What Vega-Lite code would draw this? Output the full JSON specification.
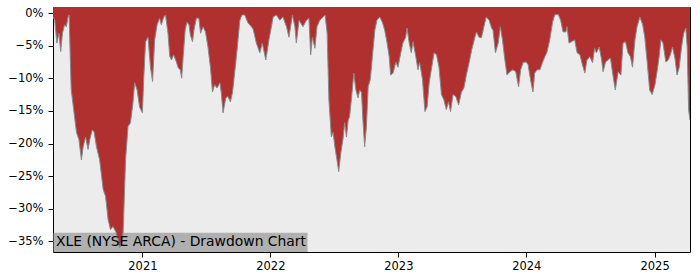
{
  "$schema": "https://vega.github.io/schema/vega-lite/v6.json",
  "width": 637,
  "height": 245,
  "autosize": "none",
  "padding": {"left": 53, "top": 7, "right": 10, "bottom": 28},
  "background": "white",
  "config": {
    "view": {"stroke": "black", "strokeWidth": 1, "fill": "#ececec"},
    "font": "DejaVu Sans",
    "axis": {"labelFont": "DejaVu Sans", "labelFontSize": 11.5, "labelColor": "black", "tickColor": "black", "tickSize": 5, "domain": false, "grid": false, "title": null, "labelOverlap": false, "labelFlush": false}
  },
  "layer": [
    {
      "data": {"values": [{}]},
      "mark": {"type": "rect", "color": "#808080", "opacity": 0.55},
      "encoding": {
        "x": {"datum": {"year": 2020, "month": 4, "date": 21}, "type": "temporal",
              "scale": {"domain": [{"year": 2020, "month": 4, "date": 21}, {"year": 2025, "month": 4, "date": 12}], "nice": false},
              "axis": {"values": [{"year": 2021, "month": 1, "date": 1}, {"year": 2022, "month": 1, "date": 1}, {"year": 2023, "month": 1, "date": 1}, {"year": 2024, "month": 1, "date": 1}, {"year": 2025, "month": 1, "date": 1}], "format": "%Y", "labelPadding": 3, "labelOverlap": false}},
        "x2": {"datum": {"year": 2022, "month": 4, "date": 17}},
        "y": {"datum": -36.62, "type": "quantitative",
              "scale": {"domain": [-36.62, 0.92], "nice": false, "zero": false},
              "axis": {"values": [0, -5, -10, -15, -20, -25, -30, -35], "labelExpr": "format(datum.value / 100, '.0%')", "labelPadding": 5, "labelOverlap": false}},
        "y2": {"datum": -33.67}
      }
    },
    {
      "data": {"values": [
        {"date":"2020-04-21","dd":-0.6},{"date":"2020-04-26","dd":-1.1},{"date":"2020-05-02","dd":-4.6},{"date":"2020-05-08","dd":-3.1},{"date":"2020-05-13","dd":-5.9},{"date":"2020-05-18","dd":-3.1},{"date":"2020-05-24","dd":-1.8},{"date":"2020-05-29","dd":-2.1},{"date":"2020-06-03","dd":-0.6},{"date":"2020-06-06","dd":-0.3},
        {"date":"2020-06-10","dd":-8.3},{"date":"2020-06-12","dd":-11.8},{"date":"2020-06-19","dd":-14.8},{"date":"2020-06-27","dd":-18.3},{"date":"2020-07-04","dd":-19.4},{"date":"2020-07-11","dd":-22.5},{"date":"2020-07-16","dd":-20.5},{"date":"2020-07-23","dd":-19.0},{"date":"2020-07-30","dd":-20.9},{"date":"2020-08-04","dd":-19.4},
        {"date":"2020-08-11","dd":-17.9},{"date":"2020-08-16","dd":-18.2},{"date":"2020-08-23","dd":-20.5},{"date":"2020-09-01","dd":-22.5},{"date":"2020-09-11","dd":-27.0},{"date":"2020-09-18","dd":-28.1},{"date":"2020-09-25","dd":-31.6},{"date":"2020-10-02","dd":-33.2},{"date":"2020-10-09","dd":-32.7},{"date":"2020-10-17","dd":-33.5},
        {"date":"2020-10-23","dd":-34.5},{"date":"2020-10-28","dd":-36.0},{"date":"2020-11-03","dd":-35.0},{"date":"2020-11-07","dd":-33.6},{"date":"2020-11-14","dd":-22.5},{"date":"2020-11-21","dd":-17.4},{"date":"2020-11-28","dd":-16.8},{"date":"2020-12-05","dd":-13.8},{"date":"2020-12-10","dd":-10.7},{"date":"2020-12-17","dd":-11.8},
        {"date":"2020-12-24","dd":-14.4},{"date":"2021-01-01","dd":-15.3},{"date":"2021-01-05","dd":-9.8},{"date":"2021-01-10","dd":-4.4},{"date":"2021-01-17","dd":-3.7},{"date":"2021-01-24","dd":-8.3},{"date":"2021-01-30","dd":-10.5},{"date":"2021-02-05","dd":-4.1},{"date":"2021-02-12","dd":-1.8},{"date":"2021-02-19","dd":-0.8},
        {"date":"2021-02-24","dd":-1.8},{"date":"2021-03-03","dd":-0.6},{"date":"2021-03-08","dd":-0.3},{"date":"2021-03-15","dd":-3.1},{"date":"2021-03-20","dd":-6.6},{"date":"2021-03-25","dd":-7.2},{"date":"2021-03-31","dd":-6.4},{"date":"2021-04-08","dd":-7.5},{"date":"2021-04-13","dd":-8.4},{"date":"2021-04-19","dd":-8.7},
        {"date":"2021-04-23","dd":-10.0},{"date":"2021-04-27","dd":-6.9},{"date":"2021-05-03","dd":-2.6},{"date":"2021-05-08","dd":-1.4},{"date":"2021-05-14","dd":-1.8},{"date":"2021-05-18","dd":-3.4},{"date":"2021-05-24","dd":-4.4},{"date":"2021-05-28","dd":-2.6},{"date":"2021-06-04","dd":-0.8},{"date":"2021-06-11","dd":-0.8},
        {"date":"2021-06-16","dd":-3.1},{"date":"2021-06-23","dd":-2.1},{"date":"2021-06-30","dd":-2.9},{"date":"2021-07-07","dd":-5.2},{"date":"2021-07-14","dd":-8.3},{"date":"2021-07-20","dd":-12.1},{"date":"2021-07-26","dd":-11.0},{"date":"2021-08-02","dd":-11.5},{"date":"2021-08-10","dd":-10.7},{"date":"2021-08-14","dd":-12.2},
        {"date":"2021-08-19","dd":-15.3},{"date":"2021-08-27","dd":-13.0},{"date":"2021-09-02","dd":-12.8},{"date":"2021-09-09","dd":-13.6},{"date":"2021-09-15","dd":-12.2},{"date":"2021-09-21","dd":-9.2},{"date":"2021-09-28","dd":-5.7},{"date":"2021-10-06","dd":-1.1},{"date":"2021-10-12","dd":-0.3},{"date":"2021-10-20","dd":-0.3},
        {"date":"2021-10-29","dd":-1.5},{"date":"2021-11-08","dd":-2.1},{"date":"2021-11-13","dd":-2.5},{"date":"2021-11-22","dd":-4.6},{"date":"2021-12-02","dd":-6.1},{"date":"2021-12-09","dd":-4.6},{"date":"2021-12-19","dd":-7.2},{"date":"2021-12-28","dd":-4.1},{"date":"2022-01-09","dd":-0.6},{"date":"2022-01-18","dd":-0.3},
        {"date":"2022-01-28","dd":-1.1},{"date":"2022-02-06","dd":-0.6},{"date":"2022-02-16","dd":-2.1},{"date":"2022-02-23","dd":-3.7},{"date":"2022-03-05","dd":-0.3},{"date":"2022-03-12","dd":-2.1},{"date":"2022-03-16","dd":-4.6},{"date":"2022-03-24","dd":-1.1},{"date":"2022-04-04","dd":-2.1},{"date":"2022-04-14","dd":-1.1},
        {"date":"2022-04-21","dd":-0.8},{"date":"2022-04-26","dd":-6.4},{"date":"2022-05-01","dd":-3.7},{"date":"2022-05-08","dd":-5.4},{"date":"2022-05-14","dd":-2.1},{"date":"2022-05-22","dd":-1.1},{"date":"2022-05-31","dd":-0.6},{"date":"2022-06-06","dd":-0.3},{"date":"2022-06-12","dd":-3.1},{"date":"2022-06-17","dd":-13.3},
        {"date":"2022-06-24","dd":-19.0},{"date":"2022-06-29","dd":-18.3},{"date":"2022-07-04","dd":-20.5},{"date":"2022-07-10","dd":-22.5},{"date":"2022-07-15","dd":-24.3},{"date":"2022-07-21","dd":-21.4},{"date":"2022-07-27","dd":-19.4},{"date":"2022-08-01","dd":-16.8},{"date":"2022-08-06","dd":-19.0},{"date":"2022-08-11","dd":-16.4},
        {"date":"2022-08-15","dd":-15.9},{"date":"2022-08-20","dd":-13.3},{"date":"2022-08-27","dd":-9.2},{"date":"2022-09-02","dd":-11.8},{"date":"2022-09-08","dd":-13.0},{"date":"2022-09-13","dd":-11.8},{"date":"2022-09-18","dd":-12.2},{"date":"2022-09-22","dd":-16.4},{"date":"2022-09-27","dd":-20.5},{"date":"2022-10-02","dd":-17.4},
        {"date":"2022-10-07","dd":-11.3},{"date":"2022-10-13","dd":-10.2},{"date":"2022-10-19","dd":-6.7},{"date":"2022-10-26","dd":-2.6},{"date":"2022-11-01","dd":-1.1},{"date":"2022-11-09","dd":-0.6},{"date":"2022-11-17","dd":-1.5},{"date":"2022-11-23","dd":-2.6},{"date":"2022-11-30","dd":-4.6},{"date":"2022-12-06","dd":-6.7},
        {"date":"2022-12-10","dd":-9.5},{"date":"2022-12-17","dd":-9.2},{"date":"2022-12-25","dd":-7.5},{"date":"2022-12-31","dd":-8.3},{"date":"2023-01-08","dd":-6.1},{"date":"2023-01-14","dd":-4.6},{"date":"2023-01-22","dd":-3.7},{"date":"2023-01-26","dd":-2.3},{"date":"2023-02-01","dd":-4.6},{"date":"2023-02-07","dd":-6.1},
        {"date":"2023-02-12","dd":-4.4},{"date":"2023-02-20","dd":-6.7},{"date":"2023-02-26","dd":-8.7},{"date":"2023-03-03","dd":-7.6},{"date":"2023-03-11","dd":-10.2},{"date":"2023-03-18","dd":-15.1},{"date":"2023-03-24","dd":-14.4},{"date":"2023-03-30","dd":-10.7},{"date":"2023-04-06","dd":-8.4},{"date":"2023-04-13","dd":-6.1},
        {"date":"2023-04-20","dd":-6.4},{"date":"2023-04-27","dd":-8.3},{"date":"2023-05-04","dd":-12.5},{"date":"2023-05-11","dd":-13.3},{"date":"2023-05-18","dd":-14.8},{"date":"2023-05-24","dd":-13.6},{"date":"2023-05-30","dd":-15.1},{"date":"2023-06-06","dd":-12.5},{"date":"2023-06-14","dd":-12.8},{"date":"2023-06-22","dd":-14.1},
        {"date":"2023-06-30","dd":-12.1},{"date":"2023-07-07","dd":-11.5},{"date":"2023-07-14","dd":-9.5},{"date":"2023-07-22","dd":-7.6},{"date":"2023-07-29","dd":-5.7},{"date":"2023-08-07","dd":-3.8},{"date":"2023-08-12","dd":-2.9},{"date":"2023-08-19","dd":-3.7},{"date":"2023-08-26","dd":-3.8},{"date":"2023-09-02","dd":-2.1},
        {"date":"2023-09-09","dd":-0.6},{"date":"2023-09-17","dd":-1.1},{"date":"2023-09-24","dd":-2.3},{"date":"2023-09-28","dd":-2.6},{"date":"2023-10-05","dd":-6.1},{"date":"2023-10-13","dd":-4.6},{"date":"2023-10-19","dd":-2.1},{"date":"2023-10-25","dd":-4.1},{"date":"2023-11-01","dd":-7.2},{"date":"2023-11-07","dd":-9.5},
        {"date":"2023-11-15","dd":-9.0},{"date":"2023-11-24","dd":-8.7},{"date":"2023-12-02","dd":-9.0},{"date":"2023-12-10","dd":-11.3},{"date":"2023-12-16","dd":-8.7},{"date":"2023-12-23","dd":-7.6},{"date":"2023-12-31","dd":-7.5},{"date":"2024-01-06","dd":-7.9},{"date":"2024-01-13","dd":-10.2},{"date":"2024-01-20","dd":-12.1},
        {"date":"2024-01-25","dd":-9.2},{"date":"2024-02-01","dd":-8.7},{"date":"2024-02-09","dd":-8.7},{"date":"2024-02-16","dd":-7.6},{"date":"2024-02-23","dd":-6.7},{"date":"2024-02-29","dd":-6.0},{"date":"2024-03-08","dd":-4.1},{"date":"2024-03-16","dd":-1.4},{"date":"2024-03-22","dd":-0.3},{"date":"2024-04-01","dd":-0.2},
        {"date":"2024-04-08","dd":-1.1},{"date":"2024-04-15","dd":-2.9},{"date":"2024-04-23","dd":-2.9},{"date":"2024-04-26","dd":-2.1},{"date":"2024-05-02","dd":-4.6},{"date":"2024-05-09","dd":-4.4},{"date":"2024-05-18","dd":-4.1},{"date":"2024-05-25","dd":-6.1},{"date":"2024-06-02","dd":-6.4},{"date":"2024-06-09","dd":-7.9},
        {"date":"2024-06-16","dd":-9.2},{"date":"2024-06-22","dd":-7.2},{"date":"2024-06-30","dd":-6.7},{"date":"2024-07-08","dd":-7.6},{"date":"2024-07-14","dd":-5.4},{"date":"2024-07-19","dd":-6.1},{"date":"2024-07-27","dd":-5.2},{"date":"2024-08-03","dd":-7.2},{"date":"2024-08-07","dd":-9.0},{"date":"2024-08-14","dd":-7.5},
        {"date":"2024-08-21","dd":-7.2},{"date":"2024-08-28","dd":-6.9},{"date":"2024-09-05","dd":-9.8},{"date":"2024-09-11","dd":-11.8},{"date":"2024-09-19","dd":-9.0},{"date":"2024-09-27","dd":-9.5},{"date":"2024-10-03","dd":-4.6},{"date":"2024-10-10","dd":-4.4},{"date":"2024-10-17","dd":-6.1},{"date":"2024-10-24","dd":-6.7},
        {"date":"2024-10-30","dd":-8.3},{"date":"2024-11-06","dd":-4.1},{"date":"2024-11-12","dd":-2.1},{"date":"2024-11-20","dd":-0.6},{"date":"2024-11-28","dd":-1.8},{"date":"2024-12-04","dd":-3.7},{"date":"2024-12-11","dd":-7.6},{"date":"2024-12-18","dd":-11.8},{"date":"2024-12-25","dd":-12.5},{"date":"2025-01-02","dd":-11.0},
        {"date":"2025-01-08","dd":-9.0},{"date":"2025-01-14","dd":-6.7},{"date":"2025-01-19","dd":-4.1},{"date":"2025-01-25","dd":-4.6},{"date":"2025-02-02","dd":-7.5},{"date":"2025-02-09","dd":-7.2},{"date":"2025-02-15","dd":-6.4},{"date":"2025-02-21","dd":-5.2},{"date":"2025-02-28","dd":-6.9},{"date":"2025-03-06","dd":-9.5},
        {"date":"2025-03-12","dd":-8.4},{"date":"2025-03-19","dd":-5.2},{"date":"2025-03-25","dd":-3.1},{"date":"2025-03-31","dd":-2.3},{"date":"2025-04-04","dd":-5.2},{"date":"2025-04-08","dd":-14.8},{"date":"2025-04-12","dd":-16.4}
      ]},
      "mark": {"type": "area", "color": "#b03030", "opacity": 1, "line": {"color": "#8a8a8a", "strokeWidth": 1}, "clip": true},
      "encoding": {
        "x": {"field": "date", "type": "temporal",
              "axis": {"values": [{"year": 2021, "month": 1, "date": 1}, {"year": 2022, "month": 1, "date": 1}, {"year": 2023, "month": 1, "date": 1}, {"year": 2024, "month": 1, "date": 1}, {"year": 2025, "month": 1, "date": 1}], "format": "%Y", "labelPadding": 3, "labelOverlap": false}},
        "y": {"field": "dd", "type": "quantitative",
              "axis": {"values": [0, -5, -10, -15, -20, -25, -30, -35], "labelExpr": "format(datum.value / 100, '.0%')", "labelPadding": 5, "labelOverlap": false}},
        "y2": {"datum": 0.92}
      }
    },
    {
      "data": {"values": [{}]},
      "mark": {"type": "text", "text": "XLE (NYSE ARCA) - Drawdown Chart", "font": "DejaVu Sans", "fontSize": 13.9, "color": "black", "align": "left", "baseline": "middle", "dx": 3},
      "encoding": {
        "x": {"datum": {"year": 2020, "month": 4, "date": 21}, "type": "temporal",
              "axis": {"values": [{"year": 2021, "month": 1, "date": 1}, {"year": 2022, "month": 1, "date": 1}, {"year": 2023, "month": 1, "date": 1}, {"year": 2024, "month": 1, "date": 1}, {"year": 2025, "month": 1, "date": 1}], "format": "%Y", "labelPadding": 3, "labelOverlap": false}},
        "y": {"datum": -35.15, "type": "quantitative",
              "axis": {"values": [0, -5, -10, -15, -20, -25, -30, -35], "labelExpr": "format(datum.value / 100, '.0%')", "labelPadding": 5, "labelOverlap": false}}
      }
    }
  ]
}
